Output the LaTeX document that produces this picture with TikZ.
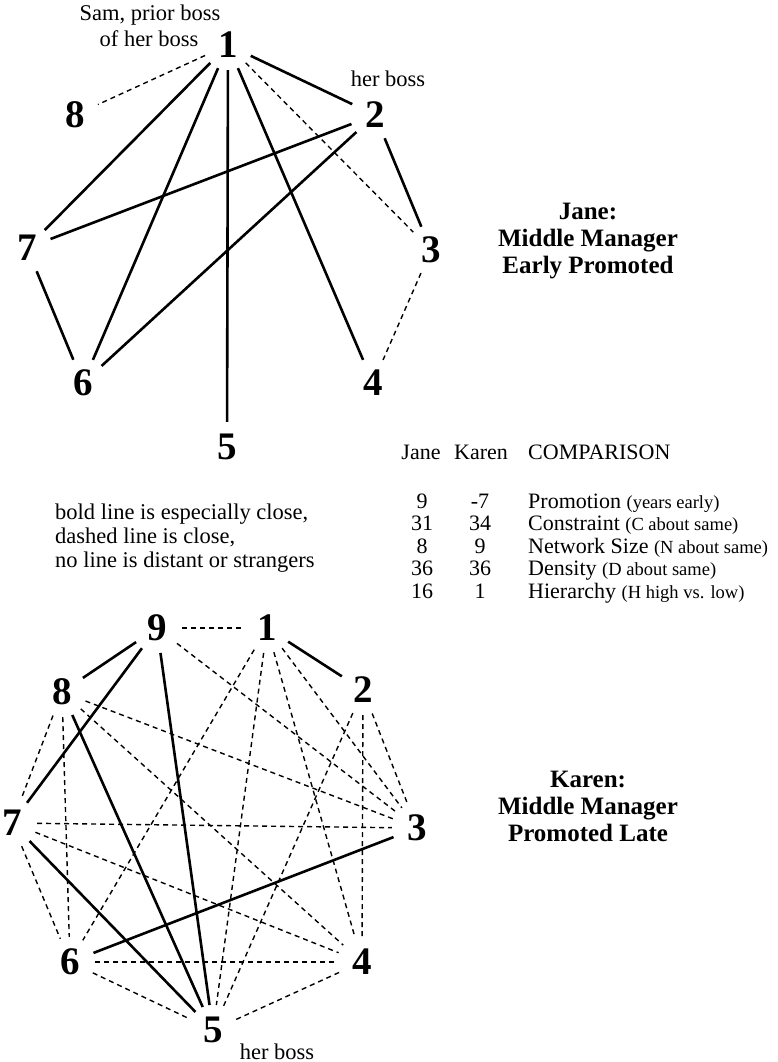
\documentclass[tikz,border=0pt]{standalone}
\usepackage{fontspec}
\setmainfont{Liberation Serif}
\begin{document}
\begin{tikzpicture}[x=1pt,y=-1pt,
  num/.style={circle, inner sep=0pt, minimum size=50pt, font=\fontsize{39}{42}\selectfont\bfseries},
  txt/.style={inner sep=0pt, anchor=base, font=\fontsize{22.5}{26}\selectfont},
  ltxt/.style={txt, anchor=base west},
  ttl/.style={inner sep=0pt, anchor=base, font=\fontsize{25}{28}\selectfont\bfseries},
  strong/.style={line width=2.6pt},
  weak/.style={line width=1.4pt, dash pattern=on 5pt off 4pt}]
\useasboundingbox (0,0) rectangle (777,1062);

% ---------- Jane ----------
\node[num] (a1) at (228,45) {1};
\node[num] (a2) at (375,115) {2};
\node[num] (a3) at (431,250) {3};
\node[num] (a4) at (373,383) {4};
\node[num] (a5) at (227,447) {5};
\node[num] (a6) at (83,383) {6};
\node[num] (a7) at (27,248) {7};
\node[num] (a8) at (75,115) {8};

\node[txt] (sam1) at (150,21) {Sam, prior boss};
\node[txt] (sam2) at (149,47) {of her boss};
\node[txt] (hb1) at (388,87) {her boss};

\draw[strong] (a1) -- (a2);
\draw[strong] (a1) -- (a7);
\draw[strong] (a1) -- (a6);
\draw[strong] (a1) -- (a5);
\draw[strong] (a1) -- (a4);
\draw[strong] (a2) -- (a7);
\draw[strong] (a2) -- (a6);
\draw[strong] (a2) -- (a3);
\draw[strong] (a7) -- (a6);
\draw[weak] (a1) -- (a8);
\draw[weak] (a1) -- (a3);
\draw[weak] (a3) -- (a4);

\node[ttl] (tj1) at (588,219) {Jane:};
\node[ttl] (tj2) at (588,246) {Middle Manager};
\node[ttl] (tj3) at (588,273) {Early Promoted};

% ---------- table ----------
\tikzset{cell/.style={inner sep=0pt, anchor=base, font=\fontsize{22}{25}\selectfont},
         lcell/.style={cell, anchor=base west}}
\newcommand{\sm}[1]{{\fontsize{18.5}{20}\selectfont #1}}
\node[cell] (hj) at (421,459) {Jane};
\node[cell] (hk) at (481,459) {Karen};
\node[lcell] (hc) at (528,459) {COMPARISON};
\node[cell] (j1) at (422,508) {9};
\node[cell] (k1) at (480,508) {-7};
\node[lcell] (c1) at (528,508) {Promotion \sm{(years early)}};
\node[cell] (j2) at (422,530.5) {31};
\node[cell] (k2) at (480,530.5) {34};
\node[lcell] (c2) at (528,530.5) {Constraint \sm{(C about same)}};
\node[cell] (j3) at (422,553) {8};
\node[cell] (k3) at (480,553) {9};
\node[lcell] (c3) at (528,553) {Network Size \sm{(N about same)}};
\node[cell] (j4) at (422,575.5) {36};
\node[cell] (k4) at (480,575.5) {36};
\node[lcell] (c4) at (528,575.5) {Density \sm{(D about same)}};
\node[cell] (j5) at (422,598) {16};
\node[cell] (k5) at (480,598) {1};
\node[lcell] (c5) at (528,598) {Hierarchy \sm{(H high vs. low)}};

% ---------- legend ----------
\node[ltxt] (leg1) at (55,519) {bold line is especially close,};
\node[ltxt] (leg2) at (55,543) {dashed line is close,};
\node[ltxt] (leg3) at (55,567) {no line is distant or strangers};

% ---------- Karen ----------
\node[num] (b9) at (157,628) {9};
\node[num] (b1) at (267,628) {1};
\node[num] (b2) at (363,690) {2};
\node[num] (b8) at (62,692) {8};
\node[num] (b7) at (12,823) {7};
\node[num] (b3) at (417,828) {3};
\node[num] (b6) at (70,962) {6};
\node[num] (b4) at (362,962) {4};
\node[num] (b5) at (213,1030) {5};
\node[txt] (hb2) at (277,1059) {her boss};

\draw[strong] (b9) -- (b8);
\draw[strong] (b1) -- (b2);
\draw[strong] (b9) -- (b7);
\draw[strong] (b9) -- (b5);
\draw[strong] (b8) -- (b5);
\draw[strong] (b7) -- (b5);
\draw[strong] (b6) -- (b3);

\draw[weak] (b9) -- (b1);
\draw[weak] (b9) -- (b3);
\draw[weak] (b1) -- (b6);
\draw[weak] (b1) -- (b5);
\draw[weak] (b1) -- (b4);
\draw[weak] (b1) -- (b3);
\draw[weak] (b2) -- (b5);
\draw[weak] (b2) -- (b4);
\draw[weak] (b2) -- (b3);
\draw[weak] (b8) -- (b3);
\draw[weak] (b8) -- (b4);
\draw[weak] (b8) -- (b6);
\draw[weak] (b8) -- (b7);
\draw[weak] (b7) -- (b3);
\draw[weak] (b7) -- (b4);
\draw[weak] (b7) -- (b6);
\draw[weak] (b6) -- (b4);
\draw[weak] (b6) -- (b5);
\draw[weak] (b4) -- (b5);

\node[ttl] (tk1) at (588,787) {Karen:};
\node[ttl] (tk2) at (588,814) {Middle Manager};
\node[ttl] (tk3) at (588,841) {Promoted Late};
\end{tikzpicture}
\end{document}
